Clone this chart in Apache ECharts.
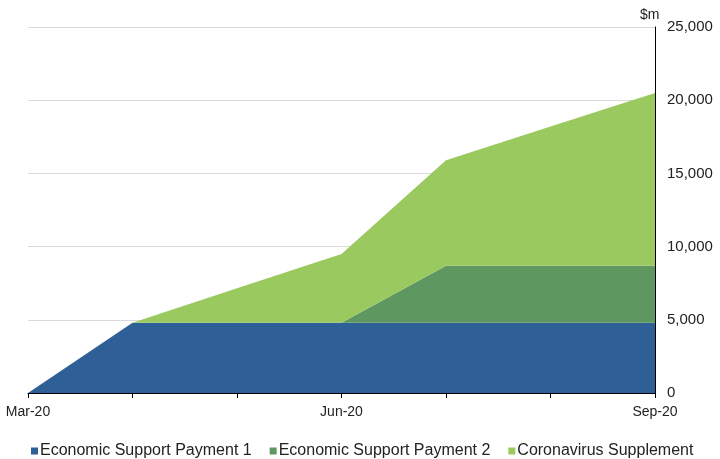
<!DOCTYPE html>
<html>
<head>
<meta charset="utf-8">
<script src="https://cdn.jsdelivr.net/npm/echarts@6/dist/echarts.min.js"></script>
<style>
  html, body { margin: 0; padding: 0; background: #fff; }
  #chart { width: 720px; height: 459px; }
</style>
</head>
<body>
<div id="chart"></div>
<script>
var months = ['Mar-20', 'Apr-20', 'May-20', 'Jun-20', 'Jul-20', 'Aug-20', 'Sep-20'];
var esp1 = [0, 4800, 4800, 4800, 4800, 4800, 4800];
var esp2 = [0, 0, 0, 0, 3900, 3900, 3900];
var supplement = [0, 0, 2350, 4700, 7200, 9500, 11800];
var yTicks = [0, 5000, 10000, 15000, 20000, 25000];

function make_series(name, color, data)
{
    return {
        name: name,
        type: 'line',
        stack: 'total',
        data: data,
        symbol: 'none',
        lineStyle: { width: 0 },
        areaStyle: { color: color, opacity: 1 },
        itemStyle: { color: color }
    }
}

var chart = echarts.init(document.getElementById('chart'));
var font = 'Liberation Sans, Arial, sans-serif';

var option = {
    animation: false,
    grid: { left: 28, right: 65, top: 27, bottom: 66 },
    title: {
        text: '$m', left: 635, top: 3,
        textStyle: { fontFamily: font, fontSize: 14, fontWeight: 'normal', color: '#222' }
    },
    legend: {
        top: 438, left: 26,
        icon: 'rect', itemWidth: 7, itemHeight: 7, itemGap: 18,
        textStyle: { fontFamily: font, fontSize: 16, color: '#222', padding: [0, 0, 0, -3] },
        data: ['Economic Support Payment 1', 'Economic Support Payment 2', 'Coronavirus Supplement']
    },
    xAxis: {
        type: 'category',
        boundaryGap: false,
        data: months,
        axisLine: { lineStyle: { color: '#000', width: 1 } },
        axisTick: { interval: 0, length: 5, lineStyle: { color: '#000' } },
        axisLabel: { interval: 2, margin: 12, fontFamily: font, fontSize: 14, color: '#222' }
    },
    yAxis: {
        type: 'value',
        position: 'right',
        min: yTicks[0],
        max: yTicks[yTicks.length - 1],
        interval: 5000,
        axisLine: { show: true, lineStyle: { color: '#000', width: 1 } },
        axisTick: { show: false },
        splitLine: { lineStyle: { color: '#d9d9d9' } },
        axisLabel: {
            margin: 12, fontFamily: font, fontSize: 15, color: '#222',
            formatter: function (v) { return v.toLocaleString('en-US'); }
        }
    },
    series: [
        make_series('Economic Support Payment 1', '#2F5F97', esp1),
        make_series('Economic Support Payment 2', '#5F9760', esp2),
        make_series('Coronavirus Supplement', '#9AC960', supplement)
    ]
};
chart.setOption(option);
</script>
</body>
</html>
